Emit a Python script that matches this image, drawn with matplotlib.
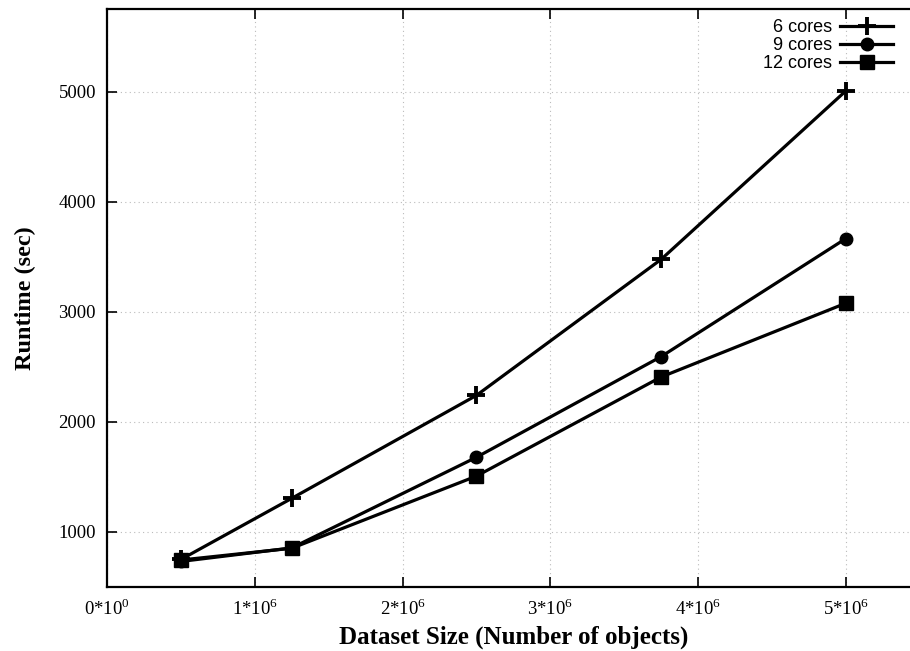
import numpy as np
import matplotlib
matplotlib.use('Agg')
import matplotlib.pyplot as plt

plt.rcParams['font.family'] = 'Liberation Serif'
plt.rcParams['mathtext.fontset'] = 'custom'
plt.rcParams['mathtext.rm'] = 'Liberation Serif'

# data
sizes = [0.5e6, 1.25e6, 2.5e6, 3.75e6, 5.0e6]
cores6 = [750, 1305, 2240, 3475, 5005]
cores9 = [732, 855, 1678, 2592, 3664]
cores12 = [745, 852, 1507, 2407, 3077]

xticks = [0, 1e6, 2e6, 3e6, 4e6, 5e6]
xticklabels = ['0*10$^{0}$', '1*10$^{6}$', '2*10$^{6}$', '3*10$^{6}$',
               '4*10$^{6}$', '5*10$^{6}$']
yticks = [1000, 2000, 3000, 4000, 5000]

fig = plt.figure(figsize=(9.1, 6.51), dpi=100)
ax = fig.add_axes([0.1176, 0.0983, 0.893, 0.888])

lw = 2.3
ax.plot(sizes, cores6, color='black', lw=lw, marker='+', markersize=13,
        markeredgewidth=2.8, label='6 cores')
ax.plot(sizes, cores9, color='black', lw=lw, marker='o', markersize=9,
        label='9 cores')
ax.plot(sizes, cores12, color='black', lw=lw, marker='s', markersize=10,
        label='12 cores')

ax.set_xlim(0, 5.5e6)
ax.set_ylim(500, 5750)
ax.set_xticks(xticks)
ax.set_xticklabels(xticklabels)
ax.set_yticks(yticks)
ax.tick_params(direction='in', length=7, width=1.2, top=True, right=True,
               labelsize=13.5, pad=8)
for s in ax.spines.values():
    s.set_linewidth(1.6)

ax.grid(True, color='#bbbbbb', linestyle=(0, (1, 3)), linewidth=0.8)

ax.set_xlabel('Dataset Size (Number of objects)', fontsize=18,
              fontweight='bold', labelpad=5)
ax.set_ylabel('Runtime (sec)', fontsize=17.5, fontweight='bold', labelpad=16)

leg = ax.legend(loc='upper right', bbox_to_anchor=(0.987, 1.01),
                markerfirst=False, frameon=False, handlelength=2.9,
                labelspacing=0.05, handletextpad=0.45,
                prop={'family': 'Liberation Sans', 'size': 13})
for t in leg.get_texts():
    t.set_ha('right')

fig.savefig('out.png', dpi=100)
